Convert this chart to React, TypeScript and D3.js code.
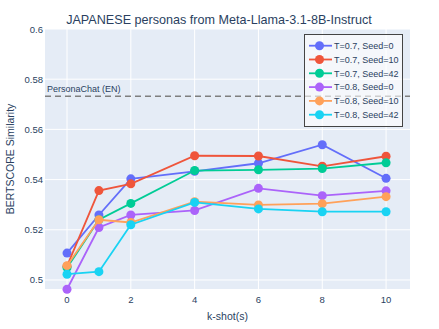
import React, { useEffect, useRef } from 'react';
import * as d3 from 'd3';

const kShots = [0, 1, 2, 4, 6, 8, 10];
const seriesNames = [
  'T=0.7, Seed=0',
  'T=0.7, Seed=10',
  'T=0.7, Seed=42',
  'T=0.8, Seed=0',
  'T=0.8, Seed=10',
  'T=0.8, Seed=42',
];
const t07seed0 = [0.5107, 0.5259, 0.5403, 0.5433, 0.5465, 0.5539, 0.5405];
const t07seed10 = [0.5055, 0.5356, 0.5383, 0.5495, 0.5494, 0.5453, 0.5493];
const t07seed42 = [0.5049, 0.524, 0.5305, 0.5436, 0.5439, 0.5444, 0.5467];
const t08seed0 = [0.4963, 0.5209, 0.5259, 0.5277, 0.5365, 0.5336, 0.5355];
const t08seed10 = [0.5057, 0.524, 0.5229, 0.5312, 0.5299, 0.5304, 0.5332];
const t08seed42 = [0.5023, 0.5033, 0.522, 0.5309, 0.5283, 0.5272, 0.5272];
const seriesValues = [t07seed0, t07seed10, t07seed42, t08seed0, t08seed10, t08seed42];
const colors = ['#636efa', '#EF553B', '#00cc96', '#ab63fa', '#FFA15A', '#19d3f3'];
const xTicks = [0, 2, 4, 6, 8, 10];
const yTicks = [0.5, 0.52, 0.54, 0.56, 0.58, 0.6];
const baselineValue = 0.5732;
const baselineLabel = 'PersonaChat (EN)';

const W = 439;
const H = 329;
const FONT = '"Liberation Sans", Arial, sans-serif';

const App = () => {
  const ref = useRef<SVGSVGElement>(null);

  useEffect(() => {
    const svg = d3.select(ref.current);
    svg.selectAll('*').remove();

    const margin = { top: 29, right: 29, bottom: 40, left: 45 };
    const width = W - margin.left - margin.right;
    const height = H - margin.top - margin.bottom;

    const x = d3.scaleLinear().domain([-0.69, 10.75]).range([0, width]);
    const y = d3.scaleLinear().domain([0.4964, 0.6]).range([height, 0]);

    svg.append('rect').attr('width', W).attr('height', H).attr('fill', '#fff');

    const g = svg.append('g').attr('transform', `translate(${margin.left},${margin.top})`);

    g.append('rect').attr('width', width).attr('height', height).attr('fill', '#E5ECF6');

    // gridlines
    g.selectAll('.xg')
      .data(xTicks)
      .enter()
      .append('line')
      .attr('x1', (d) => x(d))
      .attr('x2', (d) => x(d))
      .attr('y1', 0)
      .attr('y2', height)
      .attr('stroke', '#fff')
      .attr('stroke-width', 1);
    g.selectAll('.yg')
      .data(yTicks)
      .enter()
      .append('line')
      .attr('x1', 0)
      .attr('x2', width)
      .attr('y1', (d) => y(d))
      .attr('y2', (d) => y(d))
      .attr('stroke', '#fff')
      .attr('stroke-width', 1);

    // tick labels
    g.selectAll('.xt')
      .data(xTicks)
      .enter()
      .append('text')
      .attr('x', (d) => x(d))
      .attr('y', height + 14)
      .attr('text-anchor', 'middle')
      .style('font-family', FONT)
      .style('font-size', '9.5px')
      .style('fill', '#2a3f5f')
      .text((d) => d);
    g.selectAll('.yt')
      .data(yTicks)
      .enter()
      .append('text')
      .attr('x', -2)
      .attr('y', (d) => y(d) + 3.5)
      .attr('text-anchor', 'end')
      .style('font-family', FONT)
      .style('font-size', '9.5px')
      .style('fill', '#2a3f5f')
      .text((d) => d3.format('')(d));

    // baseline
    g.append('line')
      .attr('x1', 0)
      .attr('x2', width)
      .attr('y1', y(baselineValue))
      .attr('y2', y(baselineValue))
      .attr('stroke', '#7f7f7f')
      .attr('stroke-width', 1.5)
      .attr('stroke-dasharray', '6,4');
    g.append('text')
      .attr('x', 2)
      .attr('y', y(baselineValue) - 4)
      .style('font-family', FONT)
      .style('font-size', '9px')
      .style('fill', '#2a3f5f')
      .text(baselineLabel);

    // series
    const line = d3
      .line<number>()
      .x((_, i) => x(kShots[i]))
      .y((d) => y(d));

    seriesValues.forEach((vals, s) => {
      g.append('path')
        .datum(vals)
        .attr('fill', 'none')
        .attr('stroke', colors[s])
        .attr('stroke-width', 1.8)
        .attr('d', line);
      g.selectAll(`.dot${s}`)
        .data(vals)
        .enter()
        .append('circle')
        .attr('cx', (_, i) => x(kShots[i]))
        .attr('cy', (d) => y(d))
        .attr('r', 4.5)
        .attr('fill', colors[s]);
    });

    // legend
    const lx = 304;
    const ly = 34;
    const leg = svg.append('g').attr('transform', `translate(${lx},${ly})`);
    leg.append('rect')
      .attr('x', 0.5)
      .attr('y', 0.5)
      .attr('width', 98)
      .attr('height', 92)
      .attr('fill', 'rgba(255,255,255,0.6)')
      .attr('stroke', '#444')
      .attr('stroke-width', 1);
    seriesNames.forEach((name, i) => {
      const cy = 11.7 + i * 13.8;
      leg.append('line')
        .attr('x1', 5)
        .attr('x2', 28)
        .attr('y1', cy)
        .attr('y2', cy)
        .attr('stroke', colors[i])
        .attr('stroke-width', 1.8);
      leg.append('circle').attr('cx', 15.5).attr('cy', cy).attr('r', 4.5).attr('fill', colors[i]);
      leg.append('text')
        .attr('x', 30)
        .attr('y', cy + 3.3)
        .style('font-family', FONT)
        .style('font-size', '9px')
        .style('fill', '#2a3f5f')
        .text(name);
    });

    // titles
    svg.append('text')
      .attr('x', 219)
      .attr('y', 23.5)
      .attr('text-anchor', 'middle')
      .style('font-family', FONT)
      .style('font-size', '12.6px')
      .style('fill', '#2a3f5f')
      .text('JAPANESE personas from Meta-Llama-3.1-8B-Instruct');
    svg.append('text')
      .attr('x', margin.left + width / 2)
      .attr('y', 320)
      .attr('text-anchor', 'middle')
      .style('font-family', FONT)
      .style('font-size', '10.5px')
      .style('fill', '#2a3f5f')
      .text('k-shot(s)');
    svg.append('text')
      .attr('transform', `translate(14,${margin.top + height / 2}) rotate(-90)`)
      .attr('text-anchor', 'middle')
      .style('font-family', FONT)
      .style('font-size', '10.5px')
      .style('fill', '#2a3f5f')
      .text('BERTSCORE Similarity');
  }, []);

  return (
    <svg
      ref={ref}
      width={W}
      height={H}
      style={{ position: 'absolute', left: 0, top: 0, display: 'block' }}
    />
  );
};

export default App;
